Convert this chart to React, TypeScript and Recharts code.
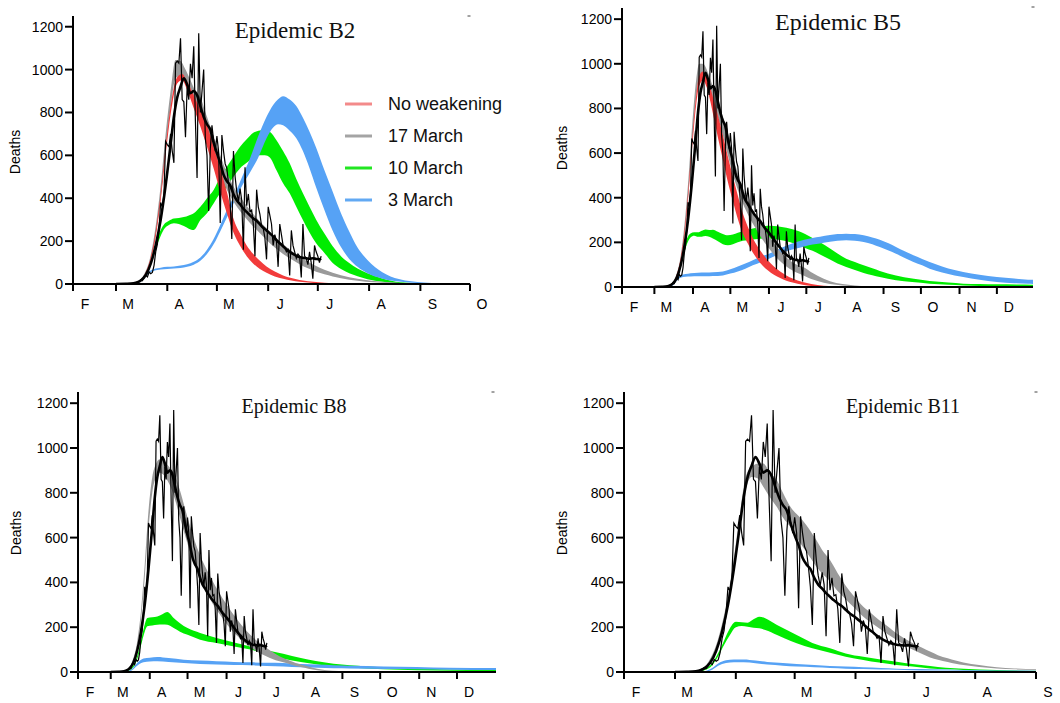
import React from "react";
import { ComposedChart, Area, Line, XAxis, YAxis } from "recharts";

// day numbers count from 1 Feb 2020 (day 0); 1 Mar = 29, 1 Apr = 60 ...
const monthStartDays = [3, 29, 60, 90, 121, 151, 182, 213, 243, 274, 304];
const monthLetters = ["F", "M", "A", "M", "J", "J", "A", "S", "O", "N", "D"];
const deathTicks = [0, 200, 400, 600, 800, 1000, 1200];

// reported daily deaths, first value is day 40 (12 Mar)
const observedStartDay = 40;
const observedDeaths = [
  2, 1, 10, 14, 20, 16, 33, 40, 33, 56,
  48, 54, 87, 150, 185, 260, 380, 360, 420, 665,
  650, 640, 700, 620, 565, 1030, 1040, 1030, 1146, 860,
  850, 685, 916, 860, 1027, 960, 1109, 760, 495, 1170,
  800, 900, 1000, 680, 600, 340, 630, 740, 670, 620,
  690, 620, 285, 695, 620, 560, 540, 470, 380, 210,
  620, 500, 430, 385, 445, 390, 160, 545, 365, 420,
  340, 345, 280, 130, 440, 360, 325, 270, 260, 215,
  115, 360, 320, 280, 180, 230, 200, 80, 280, 230,
  180, 170, 150, 160, 40, 250, 180, 150, 120, 140,
  130, 30, 280, 130, 120, 90, 150, 100, 25, 180,
  150, 130, 100, 130,
];

// 7-day average [day, deaths]
const smoothedDeaths: [number, number][] = [
  [29, 0], [35, 1], [38, 2], [41, 6], [44, 16], [47, 42], [50, 95], [53, 180], [56, 300],
  [59, 460], [62, 650], [64, 780], [66, 870], [68, 920], [70, 960], [72, 930], [74, 890],
  [76, 900], [78, 880], [80, 830], [82, 780], [84, 745], [86, 720], [88, 660], [90, 610],
  [92, 565], [94, 510], [96, 480], [98, 460], [100, 420], [102, 390], [104, 372], [106, 352],
  [108, 336], [110, 320], [112, 306], [114, 295], [116, 278], [118, 262], [120, 250],
  [122, 236], [124, 222], [126, 205], [128, 190], [130, 176], [132, 162], [134, 150],
  [136, 140], [138, 132], [140, 126], [142, 122], [144, 120], [146, 118], [148, 120],
  [150, 117], [152, 115], [153, 118],
];

// model bands [day, low, high]
const b2NoWeakening: [number, number, number][] = [
  [38, 1, 2], [42, 8, 10], [46, 35, 40], [50, 110, 125], [53, 220, 245], [56, 390, 420],
  [59, 600, 640], [62, 790, 830], [66, 935, 965], [69, 950, 980], [72, 905, 945],
  [76, 820, 880], [80, 735, 810], [84, 640, 740], [88, 540, 640], [92, 430, 540],
  [96, 330, 430], [100, 240, 305], [104, 178, 235], [108, 130, 180], [112, 95, 140],
  [116, 70, 108], [120, 52, 82], [125, 35, 58], [130, 24, 40], [135, 16, 28], [140, 10, 19],
  [150, 4, 9], [160, 1, 4], [175, 0, 1], [243, 0, 0],
];
const b2March17: [number, number, number][] = [
  [38, 1, 2], [42, 8, 11], [46, 35, 45], [50, 110, 135], [53, 230, 270], [56, 400, 460],
  [59, 620, 700], [62, 820, 900], [65, 960, 1045], [68, 970, 1040], [71, 930, 1000],
  [74, 880, 950], [77, 830, 900], [80, 790, 870], [84, 700, 780], [88, 600, 690],
  [92, 510, 600], [96, 440, 520], [100, 385, 455], [105, 330, 395], [110, 285, 345],
  [115, 245, 300], [120, 205, 260], [125, 170, 220], [130, 140, 185], [135, 115, 155],
  [140, 92, 128], [145, 73, 104], [150, 57, 84], [155, 45, 67], [160, 35, 53], [170, 20, 32],
  [180, 11, 19], [190, 6, 11], [200, 3, 6], [215, 1, 3], [243, 0, 1],
];
const b2March10: [number, number, number][] = [
  [38, 1, 2], [42, 7, 10], [46, 30, 38], [49, 70, 85], [52, 140, 165], [55, 205, 235],
  [58, 255, 278], [61, 275, 295], [64, 283, 306], [67, 280, 308], [70, 270, 312],
  [73, 258, 320], [76, 252, 330], [80, 298, 360], [84, 330, 400], [88, 376, 438],
  [92, 423, 500], [96, 454, 547], [100, 500, 594], [104, 540, 640], [108, 565, 675],
  [112, 590, 705], [116, 600, 716], [119, 601, 718], [122, 590, 710], [126, 531, 671],
  [130, 470, 620], [134, 423, 563], [138, 360, 490], [142, 298, 423], [146, 240, 360],
  [150, 190, 300], [155, 145, 235], [160, 98, 176], [165, 70, 130], [170, 50, 98],
  [175, 36, 72], [181, 22, 50], [190, 10, 26], [201, 2, 8], [215, 0, 3], [243, 0, 1],
];
const b2March3: [number, number, number][] = [
  [38, 0, 1], [42, 4, 6], [46, 25, 32], [49, 50, 58], [52, 62, 70], [56, 68, 76],
  [60, 70, 80], [64, 72, 82], [68, 75, 86], [72, 80, 92], [76, 90, 104], [80, 108, 124],
  [84, 140, 160], [88, 185, 210], [92, 245, 275], [96, 310, 345], [100, 375, 405],
  [105, 455, 495], [110, 520, 585], [115, 590, 690], [120, 680, 780], [124, 730, 835],
  [127, 745, 862], [130, 740, 876], [134, 715, 860], [138, 680, 830], [142, 620, 775],
  [146, 540, 710], [150, 450, 635], [155, 345, 530], [160, 248, 430], [165, 172, 330],
  [170, 117, 245], [175, 80, 170], [181, 50, 112], [190, 25, 55], [200, 12, 23],
  [215, 3, 7], [230, 1, 2], [243, 0, 1],
];

const b5NoWeakening: [number, number, number][] = [
  [38, 1, 2], [42, 8, 10], [46, 35, 40], [50, 110, 125], [53, 220, 245], [56, 390, 420],
  [59, 600, 640], [62, 790, 830], [65, 900, 945], [68, 925, 965], [71, 895, 940],
  [74, 830, 890], [77, 750, 830], [80, 670, 770], [84, 570, 680], [88, 470, 585],
  [92, 385, 495], [96, 305, 410], [100, 240, 330], [104, 195, 270], [108, 155, 220],
  [112, 122, 180], [116, 95, 148], [120, 75, 120], [125, 55, 92], [130, 40, 70],
  [135, 28, 52], [140, 20, 38], [148, 10, 22], [155, 5, 13], [165, 2, 6], [180, 0, 2],
  [200, 0, 0], [333, 0, 0],
];
const b5March17: [number, number, number][] = [
  [38, 1, 2], [42, 8, 11], [46, 35, 45], [50, 110, 135], [53, 230, 270], [56, 400, 460],
  [59, 620, 700], [62, 820, 900], [65, 930, 1000], [68, 940, 1000], [71, 910, 975],
  [74, 860, 930], [77, 810, 880], [80, 760, 840], [84, 680, 760], [88, 590, 670],
  [92, 505, 585], [96, 435, 510], [100, 375, 445], [105, 315, 380], [110, 265, 325],
  [115, 220, 280], [120, 180, 235], [125, 145, 195], [130, 115, 160], [135, 92, 132],
  [140, 74, 110], [145, 60, 96], [150, 48, 85], [155, 36, 66], [160, 27, 50], [170, 13, 26],
  [180, 7, 13], [190, 3, 7], [200, 1, 3], [215, 0, 1], [333, 0, 0],
];
const b5March10: [number, number, number][] = [
  [38, 1, 2], [42, 7, 10], [46, 30, 38], [49, 70, 85], [52, 130, 150], [55, 190, 215],
  [58, 222, 240], [61, 230, 245], [64, 225, 245], [67, 225, 252], [70, 228, 258],
  [73, 225, 255], [76, 217, 257], [80, 205, 248], [84, 192, 238], [88, 187, 232],
  [92, 192, 235], [96, 200, 243], [100, 207, 250], [104, 210, 256], [108, 213, 262],
  [112, 215, 267], [116, 217, 272], [120, 217, 274], [125, 215, 273], [130, 211, 270],
  [135, 205, 266], [140, 197, 259], [145, 187, 250], [150, 175, 238], [156, 162, 220],
  [162, 146, 200], [170, 123, 172], [176, 105, 150], [183, 90, 127], [190, 76, 112],
  [197, 63, 97], [204, 53, 84], [210, 45, 72], [223, 30, 52], [236, 22, 38], [250, 15, 27],
  [265, 10, 20], [277, 7, 15], [290, 5, 13], [304, 4, 12], [320, 4, 11], [333, 4, 10],
];
const b5March3: [number, number, number][] = [
  [40, 0, 2], [44, 8, 14], [47, 28, 38], [50, 42, 52], [54, 46, 58], [58, 47, 62],
  [64, 48, 64], [70, 48, 65], [76, 49, 66], [84, 52, 70], [90, 60, 80], [96, 70, 92],
  [102, 82, 105], [108, 97, 120], [115, 112, 137], [121, 127, 149], [128, 145, 168],
  [135, 160, 185], [143, 172, 202], [150, 183, 213], [156, 190, 220], [162, 195, 225],
  [170, 203, 233], [176, 207, 237], [183, 209, 239], [190, 207, 237], [197, 202, 232],
  [204, 192, 222], [210, 179, 212], [217, 163, 196], [223, 149, 179], [230, 130, 160],
  [237, 112, 142], [244, 97, 126], [250, 82, 112], [260, 65, 92], [270, 52, 76],
  [277, 45, 67], [290, 33, 55], [304, 22, 45], [318, 17, 38], [329, 15, 33], [333, 14, 32],
];

const b8March17: [number, number, number][] = [
  [38, 1, 2], [42, 8, 11], [46, 35, 45], [50, 110, 135], [53, 230, 270], [56, 420, 480],
  [59, 640, 720], [62, 800, 870], [65, 870, 930], [68, 890, 950], [71, 880, 945],
  [74, 855, 925], [77, 820, 905], [80, 770, 880], [84, 690, 810], [88, 610, 730],
  [92, 535, 650], [96, 470, 580], [100, 415, 520], [105, 355, 460], [110, 305, 405],
  [115, 262, 355], [120, 222, 310], [125, 188, 268], [130, 158, 230], [135, 132, 195],
  [140, 110, 165], [145, 92, 140], [150, 77, 118], [155, 64, 98], [160, 53, 80],
  [166, 44, 62], [172, 34, 49], [180, 22, 33], [186, 15, 24], [193, 8, 14], [200, 4, 8],
  [210, 2, 4], [225, 0, 1], [335, 0, 0],
];
const b8March10: [number, number, number][] = [
  [40, 1, 2], [44, 8, 12], [48, 30, 40], [51, 75, 90], [54, 140, 165], [56, 180, 212],
  [58, 204, 241], [62, 208, 244], [66, 211, 248], [70, 212, 258], [74, 211, 268],
  [79, 196, 241], [84, 180, 218], [90, 166, 196], [100, 144, 174], [113, 129, 152],
  [127, 114, 132], [140, 100, 114], [153, 77, 97], [166, 59, 82], [180, 45, 62],
  [193, 34, 48], [206, 25, 37], [219, 20, 30], [232, 16, 25], [259, 10, 18], [285, 7, 13],
  [312, 5, 10], [335, 4, 9],
];
const b8March3: [number, number, number][] = [
  [42, 0, 2], [46, 8, 14], [50, 28, 40], [55, 43, 60], [60, 47, 64], [66, 48, 67],
  [75, 45, 62], [87, 40, 55], [100, 36, 51], [113, 33, 48], [127, 31, 45], [140, 30, 43],
  [153, 27, 41], [166, 25, 40], [180, 21, 36], [193, 19, 33], [206, 17, 30], [219, 16, 28],
  [246, 13, 25], [272, 12, 22], [298, 10, 19], [335, 9, 18],
];

const b11March17: [number, number, number][] = [
  [38, 1, 2], [42, 8, 11], [46, 35, 45], [50, 100, 120], [53, 185, 215], [56, 300, 340],
  [59, 460, 510], [62, 640, 700], [65, 810, 870], [68, 870, 915], [71, 865, 930],
  [74, 827, 931], [77, 785, 895], [81, 735, 855], [84, 690, 800], [88, 645, 735],
  [91, 600, 705], [94, 560, 678], [98, 510, 630], [101, 470, 589], [104, 440, 545],
  [108, 405, 500], [112, 360, 440], [116, 325, 385], [120, 290, 340], [125, 247, 291],
  [129, 220, 262], [133, 195, 232], [138, 165, 200], [142, 143, 172], [146, 120, 150],
  [150, 100, 130], [155, 80, 108], [159, 65, 91], [163, 55, 75], [168, 45, 61],
  [172, 37, 51], [176, 31, 42], [184, 22, 31], [193, 16, 21], [202, 12, 16], [213, 9, 12],
];
const b11March10: [number, number, number][] = [
  [40, 1, 2], [44, 8, 12], [48, 30, 40], [51, 70, 85], [54, 120, 140], [57, 165, 195],
  [60, 200, 224], [63, 205, 222], [66, 202, 220], [69, 198, 235], [72, 195, 247],
  [75, 188, 240], [78, 178, 225], [81, 165, 210], [85, 150, 192], [91, 128, 165],
  [99, 106, 130], [108, 86, 106], [116, 68, 83], [125, 54, 68], [133, 42, 57],
  [142, 31, 46], [150, 24, 36], [159, 16, 27], [167, 12, 19], [176, 9, 15], [193, 4, 9],
  [213, 3, 6],
];
const b11March3: [number, number, number][] = [
  [44, 0, 3], [48, 10, 18], [51, 28, 38], [55, 40, 52], [59, 43, 56], [64, 43, 56],
  [70, 39, 51], [76, 33, 45], [84, 28, 40], [91, 24, 36], [100, 21, 31], [108, 18, 27],
  [116, 15, 24], [125, 13, 21], [134, 11, 18], [142, 10, 15], [150, 8, 13], [159, 7, 12],
  [176, 6, 9], [193, 4, 7], [213, 3, 6],
];

const RED = "#f23b3b";
const GRAY = "#9a9a9a";
const GREEN = "#00ec00";
const BLUE = "#56a2f5";
const FONT = "'Liberation Sans', Arial, sans-serif";
const SERIF = "'Liberation Serif', 'Times New Roman', serif";

const legendItems = [
  { label: "No weakening", color: "#f38a8a" },
  { label: "17 March", color: "#a4a4a4" },
  { label: "10 March", color: "#22e622" },
  { label: "3 March", color: "#62a9f3" },
];

const observedData = observedDeaths.map((v, i) => ({ day: observedStartDay + i, deaths: v }));
const smoothedData = smoothedDeaths.map(([day, v]) => ({ day, deaths: v }));
const toRange = (band: [number, number, number][]) =>
  band.map(([day, lo, hi]) => ({ day, range: [lo, hi] }));

interface PanelCfg {
  title: string;
  box: { left: number; top: number; width: number; height: number; plotLeft: number; plotRight: number; plotTop: number; plotBottom: number };
  endDay: number;
  tickCount: number;
  bands: { data: [number, number, number][]; color: string }[];
}

const panels: PanelCfg[] = [
  {
    title: "Epidemic B2",
    box: { left: 0, top: 0, width: 530, height: 330, plotLeft: 73, plotRight: 470, plotTop: 16, plotBottom: 284 },
    endDay: 243,
    tickCount: 9,
    bands: [
      { data: b2March10, color: GREEN },
      { data: b2March3, color: BLUE },
      { data: b2March17, color: GRAY },
      { data: b2NoWeakening, color: RED },
    ],
  },
  {
    title: "Epidemic B5",
    box: { left: 530, top: 0, width: 530, height: 330, plotLeft: 622, plotRight: 1033, plotTop: 8, plotBottom: 287 },
    endDay: 333,
    tickCount: 11,
    bands: [
      { data: b5March10, color: GREEN },
      { data: b5March3, color: BLUE },
      { data: b5March17, color: GRAY },
      { data: b5NoWeakening, color: RED },
    ],
  },
  {
    title: "Epidemic B8",
    box: { left: 0, top: 370, width: 530, height: 333, plotLeft: 78, plotRight: 496, plotTop: 392, plotBottom: 672 },
    endDay: 335,
    tickCount: 11,
    bands: [
      { data: b8March10, color: GREEN },
      { data: b8March3, color: BLUE },
      { data: b8March17, color: GRAY },
    ],
  },
  {
    title: "Epidemic B11",
    box: { left: 530, top: 370, width: 530, height: 333, plotLeft: 624, plotRight: 1036, plotTop: 392, plotBottom: 672 },
    endDay: 213,
    tickCount: 8,
    bands: [
      { data: b11March10, color: GREEN },
      { data: b11March3, color: BLUE },
      { data: b11March17, color: GRAY },
    ],
  },
];

const MonthTick = (props: any) => {
  const { x, y, payload } = props;
  const label = monthLetters[monthStartDays.indexOf(payload.value)];
  return (
    <text x={x + 12} y={y} dy="0.71em" textAnchor="middle" fontSize={14} fontFamily={FONT} fill="#000">
      {label}
    </text>
  );
};

function Panel({ cfg }: { cfg: PanelCfg }) {
  const { left, top, width, height, plotLeft, plotRight, plotTop, plotBottom } = cfg.box;
  const xAxisHeight = 36;
  const margin = {
    top: plotTop - top,
    right: left + width - plotRight,
    left: 0,
    bottom: top + height - plotBottom - xAxisHeight,
  };
  const axisStroke = { stroke: "#000", strokeWidth: 2 };
  return (
    <div style={{ position: "absolute", left, top, width, height }}>
      <ComposedChart width={width} height={height} margin={margin}>
        <XAxis
          type="number"
          dataKey="day"
          domain={[3, cfg.endDay]}
          allowDataOverflow
          ticks={monthStartDays.slice(0, cfg.tickCount)}
          interval={0}
          height={xAxisHeight}
          axisLine={axisStroke}
          tickLine={axisStroke}
          tickSize={7}
          tickMargin={8}
          tick={<MonthTick />}
        />
        <YAxis
          type="number"
          domain={[0, 1250]}
          allowDataOverflow
          ticks={deathTicks}
          interval={0}
          width={plotLeft - left}
          axisLine={axisStroke}
          tickLine={axisStroke}
          tickSize={8}
          tick={{ fill: "#000", fontSize: 14, fontFamily: FONT }}
        />
        {cfg.bands.map((b, i) => (
          <Area
            key={i}
            data={toRange(b.data)}
            dataKey="range"
            type="monotone"
            stroke="none"
            fill={b.color}
            fillOpacity={1}
            dot={false}
            activeDot={false}
            isAnimationActive={false}
          />
        ))}
        <Line data={observedData} dataKey="deaths" type="linear" stroke="#000" strokeWidth={1.2} dot={false} activeDot={false} isAnimationActive={false} />
        <Line data={smoothedData} dataKey="deaths" type="monotone" stroke="#000" strokeWidth={2.6} dot={false} activeDot={false} isAnimationActive={false} />
      </ComposedChart>
    </div>
  );
}

const titlePos = [
  { x: 295, y: 38, size: 23 },
  { x: 838, y: 30, size: 24 },
  { x: 294, y: 413, size: 20 },
  { x: 903, y: 413, size: 20 },
];
const deathsPos = [
  { x: 15, y: 152 },
  { x: 562, y: 148 },
  { x: 16, y: 533 },
  { x: 562, y: 533 },
];
const cornerMarks = [
  { x: 469, y: 16 },
  { x: 1033, y: 7 },
  { x: 493, y: 392 },
  { x: 1036, y: 392 },
];

export default function App() {
  return (
    <div style={{ position: "absolute", left: 0, top: 0, width: 1060, height: 703, background: "#fff" }}>
      {panels.map((p) => (
        <Panel key={p.title} cfg={p} />
      ))}
      <svg width={1060} height={703} style={{ position: "absolute", left: 0, top: 0, pointerEvents: "none" }}>
        {panels.map((p, i) => (
          <text key={p.title} x={titlePos[i].x} y={titlePos[i].y} textAnchor="middle" fontSize={titlePos[i].size} fontFamily={SERIF} fill="#111">
            {p.title}
          </text>
        ))}
        {deathsPos.map((d, i) => (
          <text
            key={i}
            x={d.x}
            y={d.y}
            transform={`rotate(-90 ${d.x} ${d.y})`}
            textAnchor="middle"
            dominantBaseline="central"
            style={{ fontSize: 14, fontFamily: FONT }}
            fill="#000"
          >
            Deaths
          </text>
        ))}
        {cornerMarks.map((c, i) => (
          <line key={i} x1={c.x - 1.5} x2={c.x + 1.5} y1={c.y} y2={c.y} stroke="#444" strokeWidth={1} />
        ))}
        {legendItems.map((item, i) => (
          <g key={item.label}>
            <line x1={345} x2={372} y1={104 + i * 32} y2={104 + i * 32} stroke={item.color} strokeWidth={3} />
            <text x={388} y={104 + i * 32} dominantBaseline="central" fontSize={18} fontFamily={FONT} fill="#111">
              {item.label}
            </text>
          </g>
        ))}
      </svg>
    </div>
  );
}
